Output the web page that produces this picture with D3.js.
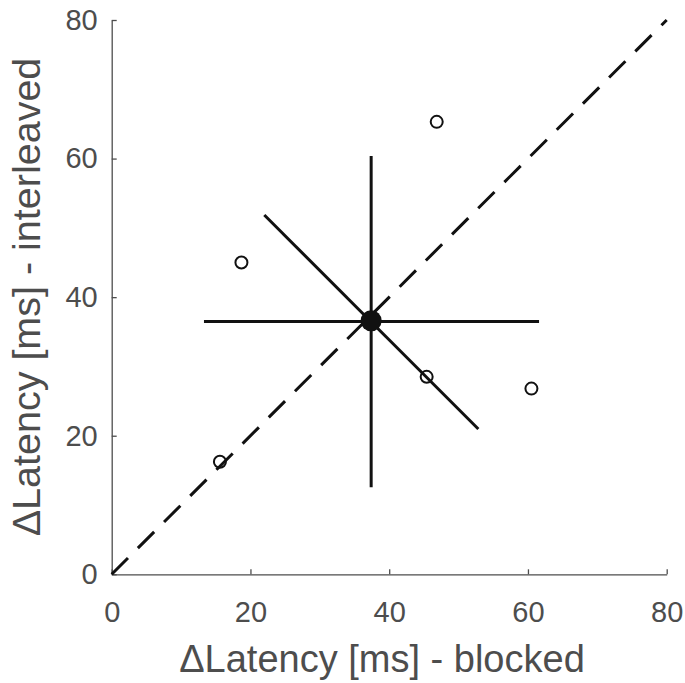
<!doctype html>
<html>
  <head>
    <meta charset="utf-8">
    <title>Latency blocked vs interleaved</title>
    <script src="https://cdnjs.cloudflare.com/ajax/libs/d3/7.8.5/d3.min.js"></script>
    <style>
      body { margin: 0; background: #fff; }
      text { font-family: "Liberation Sans", Arial, Helvetica, sans-serif; }
    </style>
  </head>
  <body>
    <div id="chart"></div>
    <script>
      // subjects: latency difference (ms)
      const blocked     = [15.6, 18.7, 46.85, 45.4, 60.5];
      const interleaved = [16.25, 45.0, 65.3, 28.5, 26.8];

      // group mean and spread lines
      const meanPoint = [37.4, 36.6];
      const hLine = [[13.3, 36.5], [61.6, 36.5]];
      const vLine = [[37.4, 12.55], [37.4, 60.36]];
      const diagLine = [[22.0, 51.85], [52.85, 20.97]];
      const unityLine = [[0, 0], [80, 80]];

      const ticks = [0, 20, 40, 60, 80];

      const svg = d3.select('#chart')
        .append('svg')
        .attr('width', 685)
        .attr('height', 683);

      const x = d3.scaleLinear().domain([0, 80]).range([111.7, 666.7]);
      const y = d3.scaleLinear().domain([0, 80]).range([574.3, 20]);

      const axisColor = '#4d4d4d';

      // axes, ticks pointing inward
      const gx = svg.append('g')
        .attr('transform', `translate(0,${y(0)})`)
        .call(d3.axisBottom(x).tickValues(ticks).tickSizeInner(-5).tickSizeOuter(0).tickPadding(27));
      const gy = svg.append('g')
        .attr('transform', `translate(${x(0)},0)`)
        .call(d3.axisLeft(y).tickValues(ticks).tickSizeInner(-5).tickSizeOuter(0).tickPadding(14));

      [gx, gy].forEach(g => {
        g.select('.domain').attr('stroke', axisColor).attr('stroke-width', 1.3);
        g.selectAll('.tick line').attr('stroke', axisColor).attr('stroke-width', 1.3);
        g.selectAll('.tick text')
          .attr('fill', axisColor)
          .style('font-size', '29px')
          .style('font-family', '"Liberation Sans", Arial, sans-serif');
      });

      const line = d3.line().x(d => x(d[0])).y(d => y(d[1]));

      // unity line
      svg.append('path')
        .attr('d', line(unityLine))
        .attr('fill', 'none')
        .attr('stroke', '#111')
        .attr('stroke-width', 3)
        .attr('stroke-dasharray', '23,14');

      // cross and diagonal
      [hLine, vLine, diagLine].forEach(l => {
        svg.append('path')
          .attr('d', line(l))
          .attr('fill', 'none')
          .attr('stroke', '#111')
          .attr('stroke-width', 3);
      });

      // individual points
      svg.selectAll('circle.subj')
        .data(blocked.map((b, i) => [b, interleaved[i]]))
        .join('circle')
        .attr('class', 'subj')
        .attr('cx', d => x(d[0]))
        .attr('cy', d => y(d[1]))
        .attr('r', 6)
        .attr('fill', 'none')
        .attr('stroke', '#111')
        .attr('stroke-width', 2);

      // mean
      svg.append('circle')
        .attr('cx', x(meanPoint[0]))
        .attr('cy', y(meanPoint[1]))
        .attr('r', 10.5)
        .attr('fill', '#111');

      // axis labels
      svg.append('text')
        .attr('x', 382)
        .attr('y', 672)
        .attr('text-anchor', 'middle')
        .attr('fill', axisColor)
        .style('font-size', '38px')
        .text('\u0394Latency [ms] - blocked');

      svg.append('text')
        .attr('transform', 'translate(40,297) rotate(-90)')
        .attr('text-anchor', 'middle')
        .attr('fill', axisColor)
        .style('font-size', '39.5px')
        .text('\u0394Latency [ms] - interleaved');
    </script>
  </body>
</html>
